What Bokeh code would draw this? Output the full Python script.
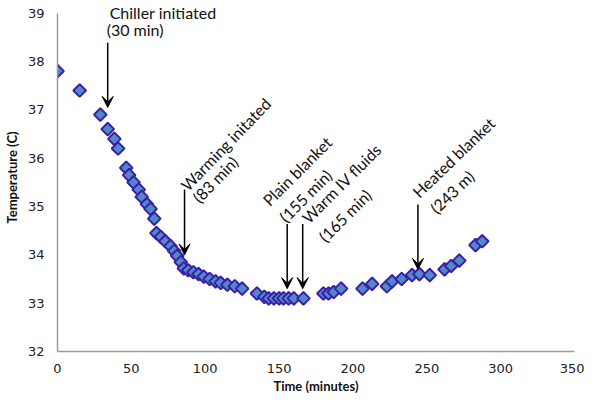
import math
from bokeh.plotting import figure
from bokeh.models import Range1d, Arrow, VeeHead, Label, FixedTicker, ColumnDataSource
from bokeh.embed import file_html
from bokeh.resources import INLINE

# ---- data ----
time_min = [0, 15, 29, 34, 38.5, 41, 46.5, 48.5, 51.5, 55, 57, 60.5, 63, 65.5,
            67, 70, 73, 76.5, 79, 81, 83.5, 85.5, 88.5, 92, 95.5, 99, 103, 107,
            110.5, 115, 120, 125, 135, 140, 143, 146.5, 150, 153, 156.5, 160,
            166.5, 180, 183.5, 187, 192, 206.5, 213, 223, 226.5, 233, 240, 245,
            252, 262, 266.5, 272, 283, 287.5]
temp_c = [37.8, 37.4, 36.9, 36.6, 36.4, 36.2, 35.8, 35.65, 35.5, 35.35, 35.2,
          35.05, 34.95, 34.75, 34.45, 34.37, 34.28, 34.18, 34.08, 33.98, 33.85,
          33.72, 33.68, 33.64, 33.6, 33.55, 33.5, 33.45, 33.42, 33.38, 33.35,
          33.3, 33.2, 33.13, 33.1, 33.1, 33.1, 33.1, 33.1, 33.1, 33.1, 33.2,
          33.2, 33.23, 33.3, 33.3, 33.4, 33.35, 33.45, 33.5, 33.58, 33.6, 33.58,
          33.7, 33.77, 33.88, 34.2, 34.28]

x_ticks = [0, 50, 100, 150, 200, 250, 300, 350]
y_ticks = [32, 33, 34, 35, 36, 37, 38, 39]

event_titles = ["Chiller initiated", "Warming initated", "Plain blanket",
                "Warm IV fluids", "Heated blanket"]
event_times = ["(30 min)", "(83 min)", "(155 min)", "(165 min)", "(243 m)"]
arrow_x = [34, 86, 155.5, 166, 244]
arrow_top = [38.39, 35.35, 34.64, 34.64, 35.04]
arrow_tip = [37.05, 34.0, 33.3, 33.3, 33.70]

# ---- figure ----
p = figure(width=584, height=396, x_range=Range1d(0, 350), y_range=Range1d(32, 39.2),
           output_backend="svg", toolbar_location=None,
           min_border_left=55, min_border_right=10, min_border_top=3,
           min_border_bottom=45)
p.outline_line_color = None
p.grid.visible = False
p.background_fill_color = "white"
p.border_fill_color = "white"

for ax in (p.xaxis, p.yaxis):
    ax.axis_line_color = "#9a9a9a"
    ax.axis_line_width = 1.5
    ax.major_tick_line_color = None
    ax.minor_tick_line_color = None
    ax.major_tick_out = 0
    ax.major_tick_in = 0
    ax.minor_tick_out = 0
    ax.major_label_text_font = "DejaVu Sans"
    ax.major_label_text_font_size = "13px"
    ax.major_label_text_color = "#222222"
    ax.axis_label_text_font = "Lato"
    ax.axis_label_text_font_style = "bold"
    ax.axis_label_text_font_size = "13px"
    ax.axis_label_text_color = "#111111"

p.xaxis.ticker = FixedTicker(ticks=x_ticks)
p.yaxis.ticker = FixedTicker(ticks=y_ticks)
p.yaxis.bounds = (y_ticks[0], y_ticks[-1])
p.xaxis.major_label_standoff = 12
p.yaxis.major_label_standoff = 13
p.xaxis.axis_label = "Time (minutes)"
p.yaxis.axis_label = "Temperature (C)"
p.xaxis.axis_label_standoff = 2
p.yaxis.axis_label_standoff = 5

src = ColumnDataSource(dict(t=time_min, T=temp_c))
p.scatter("t", "T", source=src, marker="square", size=9, angle=math.pi / 4,
          fill_color="#5288c8", line_color="#3a1fa8", line_width=2)

# ---- arrows ----
for xa, yt, yb in zip(arrow_x, arrow_top, arrow_tip):
    p.add_layout(Arrow(end=VeeHead(size=11, fill_color="black", line_color="black",
                                   line_width=1),
                       x_start=xa, y_start=yt, x_end=xa, y_end=yb,
                       line_color="black", line_width=1.5))

# ---- annotation texts ----
line1_pos = [(35.3, 39.02), (85.3, 35.39), (140.7, 35.08), (167.3, 34.72), (242, 35.25)]
line2_pos = [(33.3, 38.67), (93.3, 35.14), (152, 34.74), (178.7, 34.33), (254, 34.92)]
angles = [0, 46, 45, 45, 44]

for title, sub, (x1, y1), (x2, y2), ang in zip(event_titles, event_times,
                                               line1_pos, line2_pos, angles):
    for txt, xx, yy in ((title, x1, y1), (sub, x2, y2)):
        p.add_layout(Label(x=xx, y=yy, text=txt, angle=ang, angle_units="deg",
                           text_font="Lato", text_font_size="16px",
                           text_color="#111111", text_align="left",
                           text_baseline="alphabetic"))

open("out.html", "w").write(file_html(p, INLINE))
